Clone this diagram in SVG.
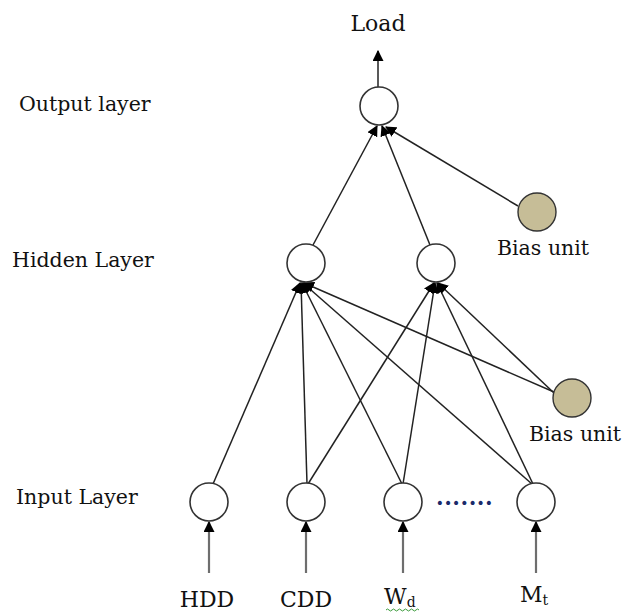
<svg xmlns="http://www.w3.org/2000/svg" width="625" height="613" viewBox="0 0 625 613">
<style>
.n{fill:#fff;stroke:#333;stroke-width:1.6}
.b{fill:#c6bd97;stroke:#333;stroke-width:1.4}
.e{stroke:#222;stroke-width:1.5;fill:none}
.in{stroke:#6e6e6e;stroke-width:2.2;fill:none}
text{font-family:"DejaVu Serif","Liberation Serif",serif;font-size:20.5px;fill:#111}
.cap{font-size:22px}
</style>
<defs>
<marker id="ah2" viewBox="0 0 10 10" refX="9" refY="5" markerWidth="11" markerHeight="11" orient="auto" markerUnits="userSpaceOnUse">
<path d="M0,0 L10,5 L0,10 z" fill="#000"/>
</marker>
</defs>
<g id="connectors">
<line class="e" x1="378" y1="87" x2="378" y2="51" marker-end="url(#ah2)"/>
<line class="e" x1="313" y1="245" x2="377" y2="126" marker-end="url(#ah2)"/>
<line class="e" x1="430" y1="245" x2="382" y2="126" marker-end="url(#ah2)"/>
<line class="e" x1="518" y1="206" x2="386" y2="127" marker-end="url(#ah2)"/>
<line class="e" x1="213" y1="484" x2="300" y2="283" marker-end="url(#ah2)"/>
<line class="e" x1="307" y1="484" x2="301" y2="283" marker-end="url(#ah2)"/>
<line class="e" x1="402" y1="484" x2="302" y2="283" marker-end="url(#ah2)"/>
<line class="e" x1="532" y1="484" x2="303" y2="283" marker-end="url(#ah2)"/>
<line class="e" x1="554" y1="392" x2="304" y2="283" marker-end="url(#ah2)"/>
<line class="e" x1="308" y1="484" x2="434" y2="283" marker-end="url(#ah2)"/>
<line class="e" x1="403" y1="484" x2="435" y2="283" marker-end="url(#ah2)"/>
<line class="e" x1="533" y1="484" x2="437" y2="283" marker-end="url(#ah2)"/>
<line class="e" x1="554" y1="393" x2="438" y2="283" marker-end="url(#ah2)"/>
<line class="in" x1="209" y1="573" x2="209" y2="522" marker-end="url(#ah2)"/>
<line class="in" x1="306" y1="573" x2="306" y2="522" marker-end="url(#ah2)"/>
<line class="in" x1="403" y1="573" x2="403" y2="522" marker-end="url(#ah2)"/>
<line class="in" x1="536" y1="573" x2="536" y2="522" marker-end="url(#ah2)"/>
</g>
<g id="output"><circle class="n" cx="379" cy="106" r="19"/></g>
<g id="hidden1"><circle class="n" cx="306" cy="263" r="19"/></g>
<g id="hidden2"><circle class="n" cx="436" cy="263" r="19"/></g>
<g id="bias1"><circle class="b" cx="537" cy="212" r="19"/></g>
<g id="bias2"><circle class="b" cx="572" cy="398" r="19"/></g>
<g id="in1"><circle class="n" cx="209" cy="502" r="19"/></g>
<g id="in2"><circle class="n" cx="306" cy="502" r="19"/></g>
<g id="in3"><circle class="n" cx="403" cy="502" r="19"/></g>
<g id="in4"><circle class="n" cx="536" cy="502" r="19"/></g>
<g id="labels">
<text class="cap" x="378" y="31" text-anchor="middle">Load</text>
<text x="19" y="111">Output layer</text>
<text x="12" y="267">Hidden Layer</text>
<text x="16" y="504">Input Layer</text>
<text x="497" y="255">Bias unit</text>
<text x="529" y="441">Bias unit</text>
<text x="436" y="505" style="font-size:22px;font-weight:bold;fill:#1a2a6a;letter-spacing:0.5px">.......</text>
<text class="cap" x="207" y="607" text-anchor="middle">HDD</text>
<text class="cap" x="306" y="607" text-anchor="middle">CDD</text>
<text class="cap" x="384" y="604">W<tspan font-size="14" dy="3">d</tspan></text>
<text class="cap" x="520" y="602">M<tspan font-size="14" dy="3">t</tspan></text>
<path d="M386,610 q1.5,-2 3,0 t3,0 t3,0 t3,0 t3,0 t3,0 t3,0 t3,0 t3,0 t3,0 t3,0" stroke="#3a9a3a" stroke-width="1" fill="none"/>
</g>
</svg>
